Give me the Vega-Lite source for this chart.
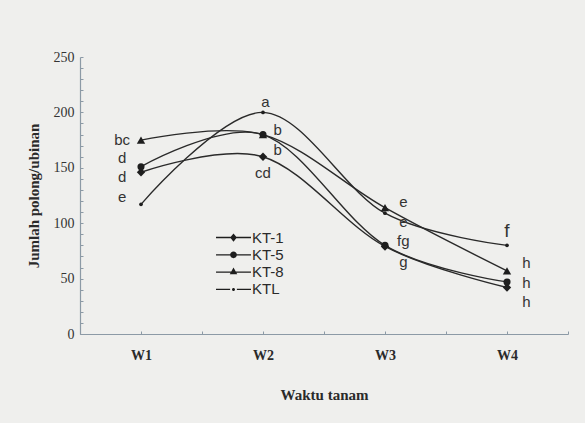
{
  "$schema": "https://vega.github.io/schema/vega-lite/v6.json",
  "width": 488,
  "height": 277,
  "autosize": {"type": "none"},
  "padding": {"left": 80, "top": 57, "right": 17, "bottom": 89},
  "background": "#efefed",
  "config": {
    "view": {"stroke": null},
    "axis": {"domainColor": "#8c9aa6", "tickColor": "#8c9aa6", "grid": false, "domainWidth": 1.2, "labelOverlap": false}
  },
  "datasets": {
    "series": [
      {"s": "KT-1", "w": 1, "v": 146}, {"s": "KT-1", "w": 2, "v": 160}, {"s": "KT-1", "w": 3, "v": 79}, {"s": "KT-1", "w": 4, "v": 42},
      {"s": "KT-5", "w": 1, "v": 151}, {"s": "KT-5", "w": 2, "v": 180}, {"s": "KT-5", "w": 3, "v": 80}, {"s": "KT-5", "w": 4, "v": 47},
      {"s": "KT-8", "w": 1, "v": 175}, {"s": "KT-8", "w": 2, "v": 180}, {"s": "KT-8", "w": 3, "v": 114}, {"s": "KT-8", "w": 4, "v": 57},
      {"s": "KTL", "w": 1, "v": 117}, {"s": "KTL", "w": 2, "v": 200}, {"s": "KTL", "w": 3, "v": 109}, {"s": "KTL", "w": 4, "v": 80}
    ],
    "letters": [
      {"t": "bc", "x": 0.845, "y": 175, "big": false}, {"t": "d", "x": 0.845, "y": 159, "big": false}, {"t": "d", "x": 0.845, "y": 142, "big": false}, {"t": "e", "x": 0.845, "y": 124, "big": false},
      {"t": "a", "x": 2.02, "y": 209, "big": false}, {"t": "b", "x": 2.12, "y": 184, "big": false}, {"t": "b", "x": 2.12, "y": 166, "big": false}, {"t": "cd", "x": 2.0, "y": 145, "big": false},
      {"t": "e", "x": 3.15, "y": 119, "big": false}, {"t": "e", "x": 3.15, "y": 101, "big": false}, {"t": "fg", "x": 3.15, "y": 84, "big": false}, {"t": "g", "x": 3.15, "y": 65, "big": false},
      {"t": "f", "x": 4.0, "y": 93, "big": true}, {"t": "h", "x": 4.16, "y": 64, "big": false}, {"t": "h", "x": 4.16, "y": 46, "big": false}, {"t": "h", "x": 4.16, "y": 29, "big": false}
    ]
  },
  "layer": [
    {
      "data": {"name": "series"},
      "mark": {"type": "line", "interpolate": "cardinal", "color": "#2a2a2a", "strokeWidth": 1.4},
      "encoding": {
        "x": {
          "field": "w", "type": "quantitative",
          "scale": {"domain": [0.5, 4.5], "nice": false, "zero": false},
          "axis": {
            "values": [0.5, 1, 1.5, 2, 2.5, 3, 3.5, 4, 4.5],
            "tickCount": 20,
            "labelExpr": "datum.value % 1 === 0 ? 'W' + datum.value : ''",
            "labelOverlap": false,
            "tickSize": -3,
            "labelPadding": 17,
            "labelFont": "Liberation Serif", "labelFontWeight": "bold", "labelFontSize": 14, "labelColor": "#2a2a2a",
            "title": "Waktu tanam",
            "titleFont": "Liberation Serif", "titleFontWeight": "bold", "titleFontSize": 15, "titleColor": "#2a2a2a",
            "titlePadding": 25
          }
        },
        "y": {
          "field": "v", "type": "quantitative",
          "scale": {"domain": [0, 250], "nice": false},
          "axis": {
            "values": [0, 10, 20, 30, 40, 50, 60, 70, 80, 90, 100, 110, 120, 130, 140, 150, 160, 170, 180, 190, 200, 210, 220, 230, 240, 250],
            "tickCount": 40,
            "labelExpr": "datum.value % 50 === 0 ? datum.label : ''",
            "labelOverlap": false,
            "labelFlush": false,
            "labelBound": false,
            "tickSize": -3,
            "labelPadding": 9,
            "labelFont": "Liberation Serif", "labelFontSize": 14, "labelColor": "#333333",
            "title": "Jumlah polong/ubinan",
            "titleFont": "Liberation Serif", "titleFontWeight": "bold", "titleFontSize": 15, "titleColor": "#2a2a2a",
            "titlePadding": 12
          }
        },
        "detail": {"field": "s"}
      }
    },
    {
      "data": {"name": "series"},
      "mark": {"type": "point", "filled": true, "color": "#1e1e1e", "opacity": 1},
      "encoding": {
        "x": {"field": "w", "type": "quantitative"},
        "y": {"field": "v", "type": "quantitative"},
        "shape": {"field": "s", "type": "nominal", "scale": {"domain": ["KT-1", "KT-5", "KT-8", "KTL"], "range": ["diamond", "circle", "triangle-up", "circle"]}, "legend": null},
        "size": {"condition": [{"test": "datum.s === 'KTL'", "value": 14}, {"test": "datum.s === 'KT-5'", "value": 50}], "value": 70}
      }
    },
    {
      "data": {"name": "series"},
      "mark": {"type": "point", "filled": true, "color": "#1e1e1e", "opacity": 0},
      "encoding": {
        "x": {"field": "w", "type": "quantitative"},
        "y": {"field": "v", "type": "quantitative"},
        "shape": {
          "field": "s", "type": "nominal",
          "scale": {
            "domain": ["KT-1", "KT-5", "KT-8", "KTL"],
            "range": [
              "M-2.33,-0.09H2.33V0.09H-2.33ZM0,-0.55L0.45,0L0,0.55L-0.45,0Z",
              "M-2.33,-0.09H2.33V0.09H-2.33ZM-0.45,0A0.45,0.45 0 1,1 0.45,0A0.45,0.45 0 1,1 -0.45,0Z",
              "M-2.33,-0.09H2.33V0.09H-2.33ZM0,-0.6L0.5,0.3L-0.5,0.3Z",
              "M-2.33,-0.09H-0.45V0.09H-2.33ZM0.45,-0.09H2.33V0.09H0.45ZM-0.2,0A0.2,0.2 0 1,1 0.2,0A0.2,0.2 0 1,1 -0.2,0Z"
            ]
          },
          "legend": {
            "title": null,
            "orient": "none",
            "legendX": 145,
            "legendY": 172,
            "padding": 0,
            "rowPadding": 0.3,
            "symbolSize": 225,
            "labelOffset": 10,
            "labelFont": "Liberation Sans",
            "labelFontSize": 15,
            "labelColor": "#2a2a2a",
            "symbolOpacity": 1,
            "symbolFillColor": "#1e1e1e",
            "encode": {
              "symbols": {"update": {"opacity": {"value": 1}, "fill": {"value": "#1e1e1e"}, "fillOpacity": {"value": 1}}}
            }
          }
        }
      }
    },
    {
      "data": {"name": "letters"},
      "mark": {"type": "text", "font": "Liberation Sans", "color": "#333333", "baseline": "middle", "align": "center"},
      "encoding": {
        "x": {"field": "x", "type": "quantitative"},
        "y": {"field": "y", "type": "quantitative"},
        "text": {"field": "t"},
        "size": {"condition": {"test": "datum.big", "value": 19}, "value": 15}
      }
    }
  ],
  "resolve": {"scale": {"shape": "independent"}}
}
